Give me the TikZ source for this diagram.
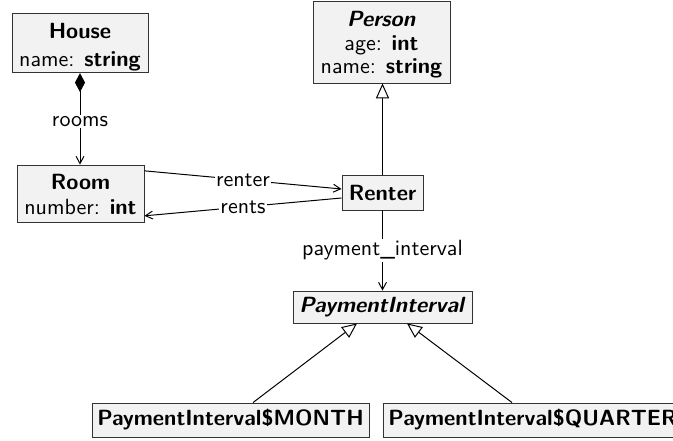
\documentclass[tikz,border=0pt]{standalone}
\usetikzlibrary{arrows.meta}
\definecolor{boxfill}{RGB}{242,242,242}
\def\u{0.4545pt}
\begin{document}
\begin{tikzpicture}[x=0.4545pt,y=-0.4545pt,
  every node/.style={font=\sffamily\fontsize{10}{11}\selectfont},
  cls/.style={draw=black!80,fill=boxfill,line width=0.4pt,inner sep=0pt,align=center},
  lbl/.style={fill=white,inner sep=0.6pt},
  edge/.style={line width=0.45pt},
  assoc/.style={edge,-{Straight Barb[length=3.3pt,width=3.6pt]}},
  comp/.style={edge,{Diamond[length=8.6pt,width=4.6pt]}-{Straight Barb[length=3.3pt,width=3.6pt]}},
  gen/.style={edge,-{Triangle[open,fill=white,length=6.8pt,width=6pt]}}]
\useasboundingbox (0,0) rectangle (673,441);
\node[cls,minimum width=136*\u,text height=53.7*\u,text depth=6*\u,
  font=\sffamily\fontsize{10}{13}\selectfont] (house) at (80,42.85)
  {\textbf{House}\\name: \textbf{string}};
\node[cls,minimum width=137*\u,text height=73*\u,text depth=9*\u,
  font=\sffamily\fontsize{10}{10.9}\selectfont] (person) at (381.5,42)
  {\textbf{\textit{Person}}\\age: \textbf{int}\\name: \textbf{string}};
\node[cls,minimum width=127*\u,text height=50*\u,text depth=7.7*\u,
  font=\sffamily\fontsize{10}{11.4}\selectfont] (room) at (80.5,193.85)
  {\textbf{Room}\\number: \textbf{int}};
\node[cls,minimum width=81*\u,minimum height=35*\u] (renter) at (382.5,192.5)
  {\textbf{Renter}};
\node[cls,minimum width=179*\u,minimum height=32*\u] (pi) at (382.5,307)
  {\textbf{\textit{PaymentInterval}}};
\node[cls,minimum width=277*\u,minimum height=34*\u] (month) at (230.5,420)
  {\textbf{PaymentInterval\$MONTH}};
\node[cls,minimum width=299*\u,minimum height=34*\u] (quarter) at (532.5,420)
  {\textbf{PaymentInterval\$QUARTER}};
% edges
\draw[comp] (house.south) -- node[lbl,pos=.53]{rooms} (house.south |- room.north);
\draw[gen] (renter.north) -- (renter.north |- person.south);
\draw[assoc] ([yshift=23*\u]room.east) -- node[lbl]{renter} ([yshift=3.5*\u]renter.west);
\draw[assoc] ([yshift=-5.5*\u]renter.west) -- node[lbl]{rents} ([yshift=-22*\u]room.east);
\draw[assoc] (renter.south) -- node[lbl]{payment\_interval} (renter.south |- pi.north);
\draw[gen] ([xshift=22.5*\u]month.north) -- ([xshift=-25.5*\u]pi.south);
\draw[gen] ([xshift=-20.5*\u]quarter.north) -- ([xshift=24.5*\u]pi.south);
\end{tikzpicture}
\end{document}
